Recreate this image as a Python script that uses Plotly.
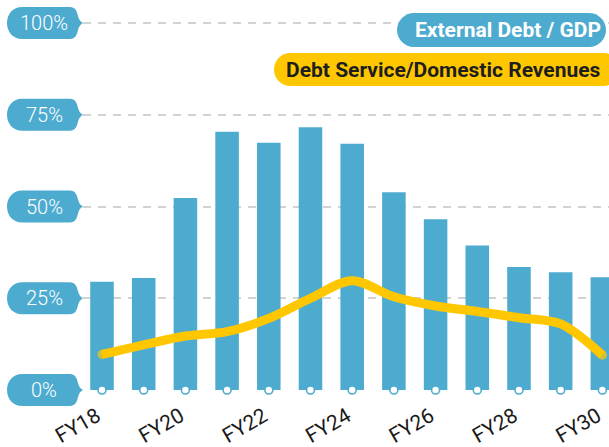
import plotly.graph_objects as go

# ---------------- data ----------------
years = ["FY18", "FY19", "FY20", "FY21", "FY22", "FY23", "FY24",
         "FY25", "FY26", "FY27", "FY28", "FY29", "FY30"]
external_debt_gdp = [29.5, 30.5, 52.3, 70.4, 67.4, 71.6, 67.1,
                     53.9, 46.5, 39.4, 33.5, 32.1, 30.7]
debt_service_rev = [9.7, 12.3, 14.7, 15.9, 19.5, 25.0, 29.8,
                    25.4, 22.9, 21.4, 19.7, 18.0, 9.5]
y_ticks = [0, 25, 50, 75, 100]
y_tick_labels = ["0%", "25%", "50%", "75%", "100%"]
x_tick_labels = ["FY18", "FY20", "FY22", "FY24", "FY26", "FY28", "FY30"]
series_names = ["External Debt / GDP", "Debt Service/Domestic Revenues"]

# ---------------- style ----------------
W, H = 609, 447
ML, MR, MT, MB = 83, 0, 0, 57
PW, PH = W - ML - MR, H - MT - MB
BLUE = "#4eabd0"
YELLOW = "#ffc700"
GRID = "#d2d2d2"
FONT = "Roboto"
X_RANGE = [-0.456, 12.159]
Y_RANGE = [0, 106.27]


def px(x):
    return (x - ML) / PW


def py(y):
    return (H - MB - y) / PH


def pt(x, y):
    return f"{px(x):.5f},{py(y):.5f}"


def pill_path(x0, x1, y0, y1):
    r = (y1 - y0) / 2
    k = 0.5523 * r
    yc = (y0 + y1) / 2
    return (f"M {pt(x0 + r, y0)} L {pt(x1 - r, y0)} "
            f"C {pt(x1 - r + k, y0)} {pt(x1, yc - k)} {pt(x1, yc)} "
            f"C {pt(x1, yc + k)} {pt(x1 - r + k, y1)} {pt(x1 - r, y1)} "
            f"L {pt(x0 + r, y1)} "
            f"C {pt(x0 + r - k, y1)} {pt(x0, yc + k)} {pt(x0, yc)} "
            f"C {pt(x0, yc - k)} {pt(x0 + r - k, y0)} {pt(x0 + r, y0)} Z")


def pointer_pill_path(yc):
    # tip at the plot's left edge, body to the left
    t = ML
    P = lambda dx, dy: pt(t + dx, yc + dy)
    return (f"M {P(-61, -16)} L {P(-13, -16)} "
            f"C {P(-8, -16)} {P(-6, -12)} {P(-5, -7)} "
            f"C {P(-4, -3)} {P(-2, -1)} {P(0, 0)} "
            f"C {P(-2, 1)} {P(-4, 3)} {P(-5, 7)} "
            f"C {P(-6, 12)} {P(-8, 16)} {P(-13, 16)} "
            f"L {P(-61, 16)} "
            f"C {P(-70, 16)} {P(-76, 9)} {P(-76, 0)} "
            f"C {P(-76, -9)} {P(-70, -16)} {P(-61, -16)} Z")


fig = go.Figure()

fig.add_trace(go.Bar(
    x=years, y=external_debt_gdp, name=series_names[0],
    marker=dict(color=BLUE, line=dict(width=0)),
))

n = len(years)
cap_sizes = [9] + [0] * (n - 2) + [9]
fig.add_trace(go.Scatter(
    x=years, y=debt_service_rev, name=series_names[1],
    mode="lines+markers",
    line=dict(color=YELLOW, width=9, shape="spline", smoothing=0.9),
    marker=dict(size=cap_sizes, color=YELLOW, line=dict(width=0)),
))

fig.add_trace(go.Scatter(
    x=years, y=[0] * n, mode="markers", cliponaxis=False,
    marker=dict(size=8, color="white", line=dict(color=BLUE, width=1.6)),
    showlegend=False,
))

shapes = []
annotations = []
ppx = PH / (Y_RANGE[1] - Y_RANGE[0])
for v, lab in zip(y_ticks, y_tick_labels):
    yc = H - MB - (v - Y_RANGE[0]) * ppx
    shapes.append(dict(type="path", xref="paper", yref="paper",
                       path=pointer_pill_path(yc), fillcolor=BLUE,
                       line=dict(width=0), layer="above"))
    annotations.append(dict(
        xref="paper", yref="y", x=0, y=v, xshift=-39, xanchor="center",
        yanchor="middle", text=lab, showarrow=False,
        font=dict(family=FONT, size=20, color="white", weight=300)))

# legend pills
shapes.append(dict(type="path", xref="paper", yref="paper",
                   path=pill_path(397, 606, 13, 47), fillcolor=BLUE,
                   line=dict(width=0), layer="above"))
shapes.append(dict(type="path", xref="paper", yref="paper",
                   path=pill_path(274, 620, 53, 86), fillcolor=YELLOW,
                   line=dict(width=0), layer="above"))
annotations.append(dict(
    xref="paper", yref="paper", x=px(603), y=py(30), xanchor="right",
    yanchor="middle", text=series_names[0], showarrow=False,
    font=dict(family=FONT, size=21, color="white", weight=700)))
annotations.append(dict(
    xref="paper", yref="paper", x=px(603), y=py(69.5), xanchor="right",
    yanchor="middle", text=series_names[1], showarrow=False,
    font=dict(family=FONT, size=21, color="#1e1e1e", weight=700)))

fig.update_layout(
    width=W, height=H,
    margin=dict(l=ML, r=MR, t=MT, b=MB, pad=0),
    paper_bgcolor="white", plot_bgcolor="white",
    showlegend=False,
    bargap=0.435,
    shapes=shapes, annotations=annotations,
    xaxis=dict(type="category", range=X_RANGE, tickvals=x_tick_labels,
               ticktext=x_tick_labels, tickangle=-30, showgrid=False,
               zeroline=False, showline=False, ticks="",
               ticklabelstandoff=9, ticklabelshift=-5,
               tickfont=dict(family=FONT, size=21, color="#1a1a1a", weight=400)),
    yaxis=dict(range=Y_RANGE, tickvals=y_ticks, showticklabels=False,
               showgrid=True, gridcolor=GRID, gridwidth=2,
               griddash="8px,7px", zeroline=False, showline=False, ticks=""),
)

fig.write_html("out.html",
               config={"displayModeBar": False},
               post_script="document.body.style.margin='0';"
                           "document.body.style.overflow='hidden';")
